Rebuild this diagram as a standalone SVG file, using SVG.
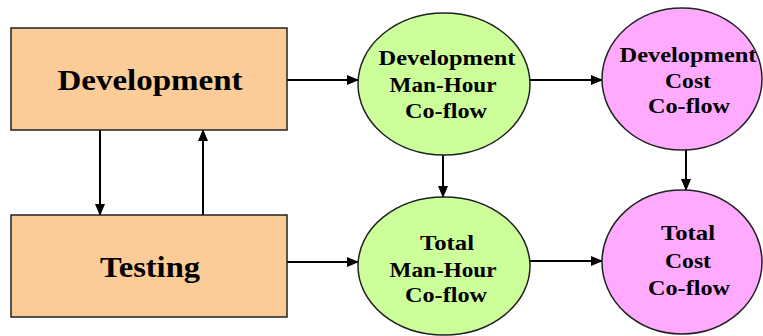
<svg xmlns="http://www.w3.org/2000/svg" width="763" height="336" viewBox="0 0 763 336">
<style>
.box{fill:#FBCB98;stroke:#222;stroke-width:1.5}
.g{fill:#CCFF99;stroke:#222;stroke-width:1.5}
.p{fill:#FFAAFF;stroke:#222;stroke-width:1.5}
.c{stroke:#000;stroke-width:2;fill:none;marker-end:url(#ah)}
text{font-family:"Liberation Serif","Times New Roman",serif;font-weight:bold;fill:#000;text-anchor:middle}
.bt{font-size:30px}
.et{font-size:22px}
</style>
<defs>
<marker id="ah" markerWidth="12" markerHeight="12" refX="11" refY="6" orient="auto" markerUnits="userSpaceOnUse">
<path d="M0,1 L12,6 L0,11 Z" fill="#000"/>
</marker>
</defs>
<rect width="763" height="336" fill="#fff"/>
<g id="connectors">
<line class="c" x1="287" y1="80" x2="358" y2="80"/>
<line class="c" x1="287" y1="262" x2="358" y2="262"/>
<line class="c" x1="100" y1="130" x2="100" y2="215"/>
<line class="c" x1="203" y1="215" x2="203" y2="130"/>
<line class="c" x1="530" y1="80" x2="602" y2="80"/>
<line class="c" x1="530" y1="261" x2="602" y2="261"/>
<line class="c" x1="443" y1="155" x2="443" y2="197"/>
<line class="c" x1="686" y1="150" x2="686" y2="190"/>
</g>
<g id="development">
<rect class="box" x="11" y="28" width="276" height="102"/>
<text class="bt" x="150" y="90" textLength="185" lengthAdjust="spacingAndGlyphs">Development</text>
</g>
<g id="testing">
<rect class="box" x="11" y="215" width="276" height="102"/>
<text class="bt" x="150" y="277" textLength="100" lengthAdjust="spacingAndGlyphs">Testing</text>
</g>
<g id="dev-manhour">
<ellipse class="g" cx="444" cy="84" rx="86" ry="71"/>
<text class="et" x="447" y="65" textLength="137" lengthAdjust="spacingAndGlyphs">Development</text>
<text class="et" x="443" y="92" textLength="107" lengthAdjust="spacingAndGlyphs">Man-Hour</text>
<text class="et" x="446" y="118" textLength="82" lengthAdjust="spacingAndGlyphs">Co-flow</text>
</g>
<g id="total-manhour">
<ellipse class="g" cx="444" cy="266" rx="86" ry="69"/>
<text class="et" x="447" y="250" textLength="54" lengthAdjust="spacingAndGlyphs">Total</text>
<text class="et" x="443" y="277" textLength="107" lengthAdjust="spacingAndGlyphs">Man-Hour</text>
<text class="et" x="446" y="302" textLength="82" lengthAdjust="spacingAndGlyphs">Co-flow</text>
</g>
<g id="dev-cost">
<ellipse class="p" cx="682" cy="79" rx="80" ry="71"/>
<text class="et" x="688" y="62" textLength="137" lengthAdjust="spacingAndGlyphs">Development</text>
<text class="et" x="688" y="88" textLength="46" lengthAdjust="spacingAndGlyphs">Cost</text>
<text class="et" x="689" y="113" textLength="82" lengthAdjust="spacingAndGlyphs">Co-flow</text>
</g>
<g id="total-cost">
<ellipse class="p" cx="682" cy="262" rx="80" ry="72"/>
<text class="et" x="688" y="240" textLength="54" lengthAdjust="spacingAndGlyphs">Total</text>
<text class="et" x="688" y="268" textLength="46" lengthAdjust="spacingAndGlyphs">Cost</text>
<text class="et" x="689" y="295" textLength="82" lengthAdjust="spacingAndGlyphs">Co-flow</text>
</g>
</svg>
